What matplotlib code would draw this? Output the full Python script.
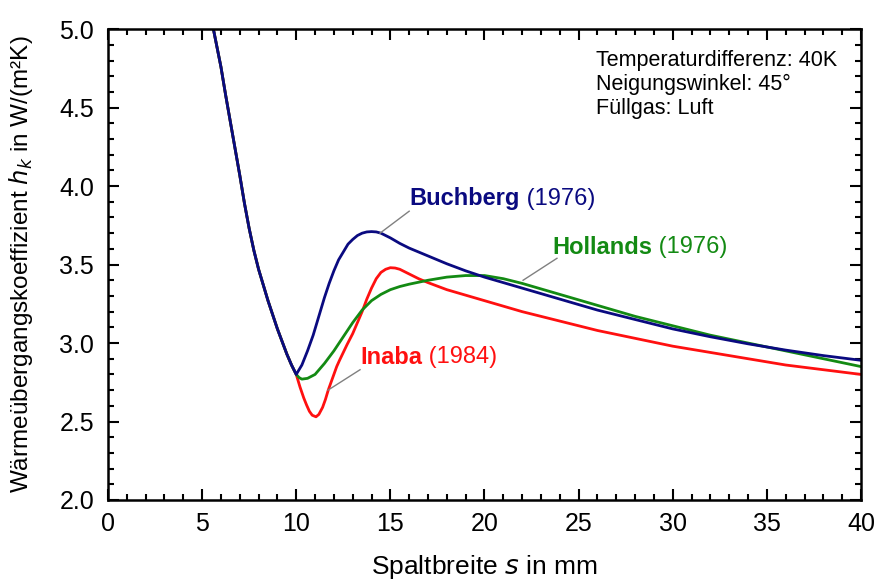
#!/usr/bin/env python3

import numpy as np
from matplotlib import pyplot as plt
from matplotlib.ticker import MultipleLocator

plt.rcParams['font.family'] = ['Liberation Sans', 'DejaVu Sans']
plt.rcParams['font.size'] = 14

# common left branch (all three curves coincide up to s = 10 mm)
S_LEFT = [5.6, 5.8, 6.0, 6.25, 6.5, 6.75, 7.0, 7.25, 7.5, 7.75, 8.0, 8.25,
          8.5, 8.75, 9.0, 9.25, 9.5, 9.75, 10.0]
H_LEFT = [5.00, 4.88, 4.76, 4.58, 4.41, 4.24, 4.07, 3.89, 3.73, 3.59, 3.47,
          3.37, 3.27, 3.18, 3.09, 3.01, 2.93, 2.86, 2.80]

S_BUCH = [10.3, 10.6, 10.9, 11.2, 11.5, 11.75, 12.0, 12.25, 12.5, 12.75,
          13.0, 13.25, 13.5, 13.75, 14.0, 14.25, 14.5, 14.75, 15.0, 15.5,
          16.0, 16.5, 17.0, 18.0, 19.0, 20.0, 22.0, 24.0, 26.0, 28.0, 30.0,
          32.0, 34.0, 36.0, 38.0, 40.0]
H_BUCH = [2.86, 2.95, 3.05, 3.17, 3.29, 3.38, 3.46, 3.53, 3.58, 3.63,
          3.66, 3.685, 3.70, 3.708, 3.71, 3.708, 3.70, 3.685, 3.67, 3.635,
          3.605, 3.58, 3.555, 3.505, 3.46, 3.42, 3.35, 3.28, 3.21, 3.15, 3.09,
          3.04, 2.995, 2.955, 2.92, 2.89]

S_HOLL = [10.15, 10.3, 10.6, 11.0, 11.5, 12.0, 12.5, 13.0, 13.5, 14.0, 14.5,
          15.0, 15.5, 16.0, 17.0, 18.0, 19.0, 20.0, 21.0, 22.0, 24.0, 26.0,
          28.0, 30.0, 32.0, 34.0, 36.0, 38.0, 40.0]
H_HOLL = [2.78, 2.77, 2.775, 2.80, 2.87, 2.95, 3.04, 3.13, 3.21, 3.27, 3.31,
          3.34, 3.36, 3.375, 3.40, 3.42, 3.43, 3.43, 3.41, 3.38, 3.31, 3.24,
          3.17, 3.11, 3.05, 3.00, 2.95, 2.90, 2.85]

S_INAB = [10.2, 10.4, 10.55, 10.7, 10.85, 11.05, 11.2, 11.4, 11.55, 11.7,
          11.85, 12.0, 12.15, 12.3, 12.5, 12.7, 13.0, 13.25, 13.5, 13.75,
          14.0, 14.25, 14.5, 14.75, 15.0, 15.25, 15.5, 16.0, 16.5, 17.0, 18.0,
          20.0, 22.0, 24.0, 26.0, 28.0, 30.0, 32.0, 34.0, 36.0, 38.0, 40.0]
H_INAB = [2.72, 2.65, 2.605, 2.565, 2.54, 2.53, 2.545, 2.59, 2.64, 2.70,
          2.75, 2.80, 2.85, 2.89, 2.94, 2.99, 3.06, 3.13, 3.20, 3.28,
          3.35, 3.41, 3.45, 3.47, 3.48, 3.478, 3.47, 3.44, 3.41, 3.385, 3.34,
          3.27, 3.20, 3.14, 3.08, 3.03, 2.98, 2.94, 2.90, 2.86, 2.83, 2.80]

X_TICKS = [0, 5, 10, 15, 20, 25, 30, 35, 40]
Y_TICKS = [2.0, 2.5, 3.0, 3.5, 4.0, 4.5, 5.0]

INFO = ["Temperaturdifferenz: 40K", "Neigungswinkel: 45°", "Füllgas: Luft"]

CLR_BUCH = '#0a0a80'
CLR_HOLL = '#138a13'
CLR_INAB = '#ff1010'


def series(s, h):
    return np.array(S_LEFT + s), np.array(H_LEFT + h)


fig = plt.figure(figsize=(8.8, 5.83), dpi=100)
ax = fig.add_axes([0.1227, 0.1424, 0.8557, 0.8076])

lw = 2.0
for s, h, c in [(S_INAB, H_INAB, CLR_INAB),
                (S_HOLL, H_HOLL, CLR_HOLL),
                (S_BUCH, H_BUCH, CLR_BUCH)]:
    x, y = series(s, h)
    ax.plot(x, y, color=c, lw=lw, solid_joinstyle='round')

# leader lines + labels
lead = dict(color='gray', lw=1.0)
ax.plot([14.45, 16.0], [3.70, 3.84], **lead)
ax.plot([22.05, 23.85], [3.40, 3.54], **lead)
ax.plot([11.69, 13.39], [2.70, 2.83], **lead)

def label(xp, yp, name, year, clr):
    t = ax.text(xp, yp, name, color=clr, fontweight='bold', fontsize=17,
                va='center', ha='left')
    ax.annotate(" " + year, xycoords=t, xy=(1, 0.5), va='center', ha='left',
                color=clr, fontsize=17)

label(16.0, 3.92, "Buchberg", "(1976)", CLR_BUCH)
label(23.6, 3.61, "Hollands", "(1976)", CLR_HOLL)
label(13.4, 2.91, "Inaba", "(1984)", CLR_INAB)

for k, line in enumerate(INFO):
    ax.text(25.9, 4.80 - k * 0.153, line, fontsize=15.5, va='center', ha='left')

ax.set_xlim((0, 40))
ax.set_ylim((2.0, 5.0))
ax.set_xticks(X_TICKS)
ax.set_yticks(Y_TICKS)
ax.set_yticklabels(["%.1f" % v for v in Y_TICKS])
ax.xaxis.set_minor_locator(MultipleLocator(1))
ax.yaxis.set_minor_locator(MultipleLocator(0.1))
ax.tick_params(which='both', direction='in', top=True, right=True, width=1.5)
ax.tick_params(which='major', length=8, labelsize=18)
ax.tick_params(axis='x', which='major', pad=9)
ax.tick_params(axis='y', which='major', pad=10)
ax.tick_params(which='minor', length=4)
for sp in ax.spines.values():
    sp.set_linewidth(1.8)

ax.set_xlabel(r"Spaltbreite $\mathit{s}$ in mm", fontsize=19)
ax.set_ylabel(r"Wärmeübergangskoeffizient $\mathit{h_k}$ in W/(m²K)", fontsize=17.5)
ax.xaxis.set_label_coords(0.5, -0.113)
ax.yaxis.set_label_coords(-0.097, 0.5)

plt.savefig("out.png", dpi=100)
